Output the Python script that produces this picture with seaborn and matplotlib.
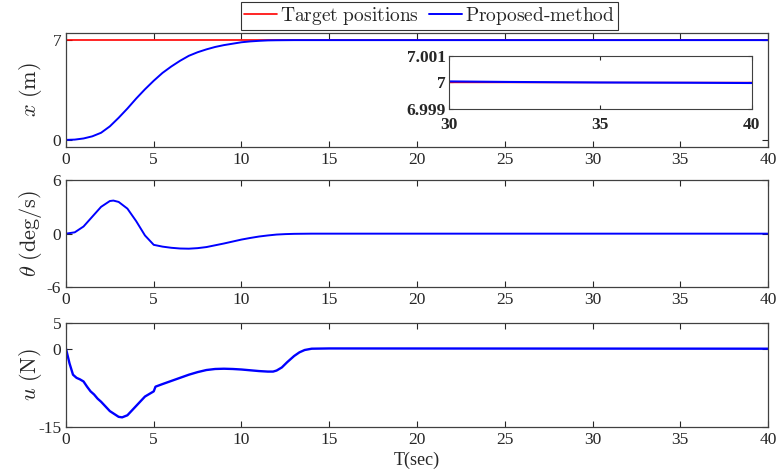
import numpy as np
import pandas as pd
import matplotlib
matplotlib.use("Agg")
import matplotlib.pyplot as plt
import seaborn as sns

# Posicion x (m)
t_x = [0, 0.5, 1, 1.5, 2, 2.5, 3, 3.5, 4, 4.5, 5, 5.5, 6, 6.5, 7, 7.5, 8, 8.5, 9, 9.5,
       10, 10.5, 11, 11.5, 12, 13, 14, 20, 30, 40]
x_val = [0, 0.02, 0.1, 0.25, 0.5, 0.95, 1.55, 2.2, 2.9, 3.55, 4.15, 4.7, 5.15, 5.55, 5.9,
         6.15, 6.35, 6.52, 6.65, 6.75, 6.85, 6.91, 6.95, 6.98, 6.99, 7.0, 7.0, 7.0, 7.0, 7.0]
t_ref = [0, 40]
x_ref = [7, 7]

# Zoom 30-40 s
t_zoom = [30, 32, 35, 38, 40]
x_zoom = [7.00004, 7.00002, 7.0, 6.99999, 6.99998]

# Angulo theta (deg/s)
t_th = [0, 0.5, 1, 1.5, 2, 2.5, 2.7, 3, 3.5, 4, 4.5, 5, 5.5, 6, 6.5, 7, 7.5, 8, 8.5, 9,
        9.5, 10, 10.5, 11, 11.5, 12, 12.5, 13, 14, 40]
th_val = [0, 0.15, 0.8, 1.9, 3.0, 3.65, 3.7, 3.55, 2.8, 1.4, -0.2, -1.25, -1.45, -1.58,
          -1.66, -1.68, -1.62, -1.5, -1.3, -1.1, -0.88, -0.66, -0.48, -0.32, -0.2, -0.1,
          -0.05, -0.02, 0, 0]

# Control u (N)
t_u = [0, 0.2, 0.4, 0.6, 0.8, 1.0, 1.2, 1.4, 1.6, 1.8, 2.0, 2.5, 3.0, 3.2, 3.5, 4.0, 4.5,
       4.9, 5.0, 5.1, 5.5, 6.0, 6.5, 7.0, 7.5, 8, 8.5, 9, 9.5, 10, 10.5, 11, 11.5, 11.8,
       12.0, 12.3, 12.6, 13.0, 13.3, 13.6, 14, 15, 40]
u_val = [0, -2.8, -5.0, -5.6, -5.9, -6.3, -7.3, -8.2, -8.8, -9.6, -10.2, -12.0, -13.1,
         -13.2, -12.8, -11.0, -9.2, -8.4, -8.2, -7.3, -6.8, -6.2, -5.6, -5.0, -4.5, -4.1,
         -3.9, -3.85, -3.9, -4.0, -4.15, -4.3, -4.4, -4.4, -4.2, -3.6, -2.6, -1.4, -0.7,
         -0.25, 0, 0.05, 0]

sns.set_style("ticks")
plt.rcParams['font.family'] = ['Liberation Serif', 'DejaVu Serif']
plt.rcParams['mathtext.fontset'] = 'cm'
plt.rcParams['axes.unicode_minus'] = False
plt.rcParams['axes.edgecolor'] = '#404040'
plt.rcParams['xtick.color'] = '#262626'
plt.rcParams['ytick.color'] = '#262626'
plt.rcParams['xtick.direction'] = 'in'
plt.rcParams['ytick.direction'] = 'in'

fig = plt.figure(figsize=(7.79, 4.70), dpi=100)
ax1 = fig.add_axes([0.0847, 0.6872, 0.9012, 0.2426])
ax2 = fig.add_axes([0.0847, 0.3887, 0.9012, 0.2283])
ax3 = fig.add_axes([0.0847, 0.0921, 0.9012, 0.2213])


def estilo(ax):
    ax.set_xlim(0, 40)
    ax.set_xticks(range(0, 41, 5))
    ax.tick_params(labelsize=12.5, length=4, width=0.8, top=True, right=True)
    for s in ax.spines.values():
        s.set_linewidth(0.9)
    ax.set_xlabel("")


# Panel x
sns.lineplot(x=t_ref, y=x_ref, ax=ax1, color='red', lw=1.2,
             label=r'$\mathrm{Target\ positions}$')
sns.lineplot(x=t_x, y=x_val, ax=ax1, color='blue', lw=1.4,
             label=r'$\mathrm{Proposed\text{-}method}$')
estilo(ax1)
ax1.set_ylim(-0.5, 7.5)
ax1.set_yticks([0, 7])
ax1.set_ylabel(r"$x\ \mathrm{(m)}$", fontsize=16)
leg = ax1.legend(loc='lower center', bbox_to_anchor=(0.518, 1.0), ncol=2, fontsize=14,
                 frameon=True, fancybox=False, edgecolor='black', borderpad=0.15,
                 handlelength=1.7, handletextpad=0.15, columnspacing=0.5,
                 borderaxespad=0.15)
leg.get_frame().set_linewidth(0.8)

# Inset
axin = fig.add_axes([0.576, 0.768, 0.389, 0.113])
sns.lineplot(x=t_ref, y=x_ref, ax=axin, color='red', lw=1.0)
sns.lineplot(x=t_zoom, y=x_zoom, ax=axin, color='blue', lw=1.5)
axin.set_xlim(30, 40)
axin.set_ylim(6.999, 7.001)
axin.set_xticks([30, 35, 40])
axin.set_yticks([6.999, 7, 7.001])
axin.set_yticklabels(['6.999', '7', '7.001'])
axin.tick_params(labelsize=12.5, length=3, top=True, right=True)
axin.tick_params(axis='x', pad=6)
axin.tick_params(axis='y', pad=2)
for lab in axin.get_xticklabels() + axin.get_yticklabels():
    lab.set_fontweight('bold')
axin.set_xlabel("")

# Panel theta
sns.lineplot(x=t_th, y=th_val, ax=ax2, color='blue', lw=1.4)
estilo(ax2)
ax2.set_ylim(-6, 6)
ax2.set_yticks([-6, 0, 6])
ax2.set_ylabel(r"$\theta\ \mathrm{(deg/s)}$", fontsize=16)

# Panel u
sns.lineplot(x=t_u, y=u_val, ax=ax3, color='blue', lw=1.7)
estilo(ax3)
ax3.set_ylim(-15, 5)
ax3.set_yticks([-15, 0, 5])
ax3.set_ylabel(r"$u\ \mathrm{(N)}$", fontsize=16)
ax3.set_xlabel("T(sec)", fontsize=13, labelpad=3)

for ax in (ax1, ax2, ax3):
    ax.yaxis.set_label_coords(-0.031, 0.5)

fig.savefig("out.png", dpi=100)
